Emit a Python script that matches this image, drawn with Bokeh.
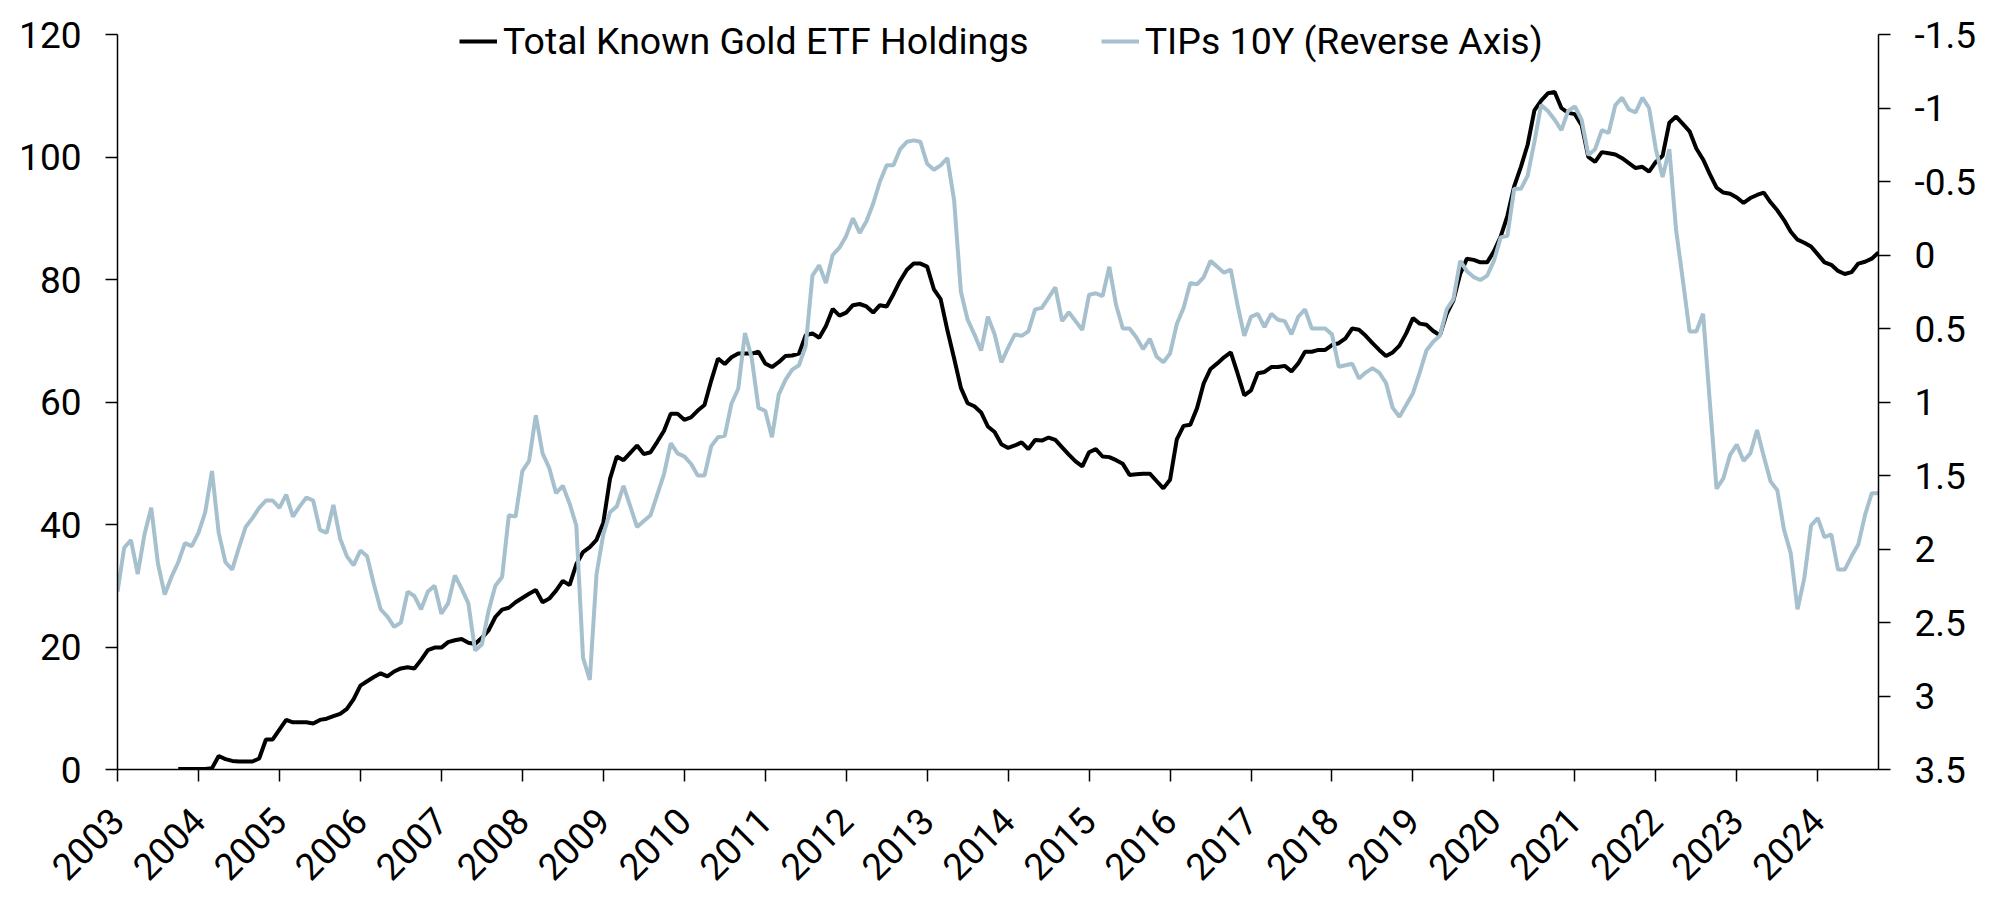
from bokeh.plotting import figure
from bokeh.models import Range1d, LinearAxis, FixedTicker, Legend, LegendItem, ColumnDataSource
from bokeh.embed import file_html
from bokeh.resources import INLINE

# Monthly observations, Jan 2003 .. Oct 2024
start_year = 2003
n_months = 262

# Total Known Gold ETF Holdings (left axis); None = no data yet
etf = [
    None, None, None, None, None, None, None, None, None, 0.1, 0.1, 0.1,          # 2003
    0.1, 0.1, 0.2, 2.2, 1.7, 1.4, 1.3, 1.3, 1.3, 1.8, 4.9, 4.9,                   # 2004
    6.5, 8.1, 7.7, 7.7, 7.7, 7.5, 8.1, 8.3, 8.7, 9.1, 9.9, 11.5,                  # 2005
    13.7, 14.4, 15.1, 15.7, 15.2, 16.0, 16.5, 16.7, 16.5, 17.9, 19.5, 19.9,       # 2006
    19.9, 20.8, 21.1, 21.3, 20.7, 20.5, 21.5, 22.7, 24.9, 26.1, 26.4, 27.3,       # 2007
    28.0, 28.7, 29.3, 27.3, 27.9, 29.2, 30.8, 30.1, 33.5, 35.5, 36.3, 37.5,       # 2008
    40.3, 47.5, 51.1, 50.5, 51.7, 52.9, 51.5, 51.8, 53.5, 55.3, 58.1, 58.1,       # 2009
    57.1, 57.5, 58.6, 59.5, 63.5, 67.1, 66.2, 67.3, 67.9, 67.9, 67.9, 68.2,       # 2010
    66.3, 65.7, 66.5, 67.5, 67.6, 67.9, 70.9, 71.2, 70.5, 72.4, 75.2, 74.1,       # 2011
    74.6, 75.8, 76.0, 75.6, 74.6, 75.8, 75.6, 77.6, 79.8, 81.6, 82.6, 82.6,       # 2012
    82.1, 78.4, 76.8, 71.7, 67.1, 62.3, 59.8, 59.3, 58.3, 56.0, 55.1, 53.1,       # 2013
    52.5, 52.9, 53.4, 52.3, 53.8, 53.7, 54.2, 53.8, 52.6, 51.4, 50.3, 49.5,       # 2014
    51.8, 52.3, 51.1, 51.0, 50.5, 49.9, 48.1, 48.2, 48.3, 48.3, 47.1, 45.9,       # 2015
    47.3, 53.9, 56.1, 56.3, 59.0, 63.1, 65.4, 66.3, 67.3, 68.1, 64.7, 61.1,       # 2016
    61.9, 64.7, 64.9, 65.7, 65.7, 65.9, 65.0, 66.3, 68.2, 68.2, 68.5, 68.5,       # 2017
    69.3, 69.6, 70.4, 72.0, 71.8, 70.8, 69.6, 68.5, 67.5, 68.1, 69.2, 71.2,       # 2018
    73.7, 72.8, 72.6, 71.6, 70.9, 74.4, 76.6, 80.9, 83.4, 83.2, 82.8, 82.8,       # 2019
    84.6, 87.0, 90.4, 95.2, 98.4, 102.0, 107.6, 109.2, 110.4, 110.6, 108.0, 107.2,  # 2020
    107.0, 105.2, 100.0, 99.2, 100.8, 100.6, 100.4, 99.8, 99.0, 98.2, 98.4, 97.6,  # 2021
    99.2, 100.2, 105.6, 106.6, 105.4, 104.2, 101.4, 99.6, 97.2, 95.0, 94.2, 94.0,  # 2022
    93.4, 92.5, 93.3, 93.8, 94.2, 92.6, 91.3, 89.7, 87.8, 86.5, 86.0, 85.4,       # 2023
    84.1, 82.8, 82.4, 81.4, 80.9, 81.2, 82.6, 82.9, 83.4, 84.4,                   # 2024
]

# TIPs 10Y real yield, % (right axis, reversed)
tips = [
    2.29, 1.99, 1.94, 2.17, 1.90, 1.72, 2.10, 2.31, 2.19, 2.09, 1.96, 1.98,       # 2003
    1.89, 1.75, 1.47, 1.89, 2.09, 2.14, 1.99, 1.85, 1.79, 1.72, 1.67, 1.67,       # 2004
    1.72, 1.63, 1.78, 1.71, 1.65, 1.67, 1.87, 1.89, 1.70, 1.93, 2.05, 2.11,       # 2005
    2.01, 2.05, 2.24, 2.41, 2.46, 2.53, 2.50, 2.29, 2.32, 2.41, 2.29, 2.25,       # 2006
    2.44, 2.37, 2.18, 2.27, 2.37, 2.69, 2.65, 2.42, 2.25, 2.19, 1.77, 1.78,       # 2007
    1.47, 1.40, 1.09, 1.35, 1.45, 1.62, 1.57, 1.69, 1.84, 2.74, 2.89, 2.17,       # 2008
    1.90, 1.75, 1.71, 1.57, 1.71, 1.85, 1.81, 1.77, 1.63, 1.49, 1.28, 1.35,       # 2009
    1.37, 1.42, 1.50, 1.50, 1.30, 1.24, 1.23, 1.01, 0.91, 0.53, 0.70, 1.04,       # 2010
    1.06, 1.24, 0.95, 0.85, 0.78, 0.75, 0.62, 0.14, 0.07, 0.19, 0.00, -0.05,      # 2011
    -0.13, -0.25, -0.15, -0.23, -0.35, -0.50, -0.61, -0.61, -0.72, -0.77, -0.78, -0.77,  # 2012
    -0.62, -0.58, -0.61, -0.66, -0.37, 0.25, 0.44, 0.54, 0.65, 0.42, 0.54, 0.73,  # 2013
    0.63, 0.54, 0.55, 0.52, 0.37, 0.36, 0.29, 0.22, 0.45, 0.39, 0.45, 0.51,       # 2014
    0.27, 0.26, 0.28, 0.08, 0.34, 0.50, 0.50, 0.56, 0.64, 0.57, 0.69, 0.73,       # 2015
    0.67, 0.47, 0.36, 0.19, 0.20, 0.15, 0.04, 0.08, 0.12, 0.10, 0.34, 0.55,       # 2016
    0.42, 0.40, 0.49, 0.40, 0.44, 0.45, 0.54, 0.42, 0.37, 0.50, 0.50, 0.50,       # 2017
    0.54, 0.76, 0.75, 0.74, 0.84, 0.80, 0.77, 0.80, 0.87, 1.04, 1.10, 1.02,       # 2018
    0.94, 0.80, 0.65, 0.59, 0.55, 0.37, 0.30, 0.04, 0.11, 0.15, 0.17, 0.14,       # 2019
    0.04, -0.12, -0.13, -0.45, -0.45, -0.54, -0.77, -1.02, -0.98, -0.92, -0.85, -0.98,  # 2020
    -1.01, -0.92, -0.68, -0.72, -0.85, -0.83, -1.02, -1.07, -0.99, -0.97, -1.07, -1.00,  # 2021
    -0.72, -0.53, -0.72, -0.17, 0.17, 0.52, 0.52, 0.40, 1.00, 1.59, 1.52, 1.36,   # 2022
    1.29, 1.40, 1.35, 1.19, 1.37, 1.54, 1.60, 1.87, 2.03, 2.41, 2.20, 1.84,       # 2023
    1.79, 1.92, 1.90, 2.14, 2.14, 2.05, 1.97, 1.77, 1.62, 1.62,                   # 2024
]

year_ticks = list(range(2003, 2025))
left_ticks = [0, 20, 40, 60, 80, 100, 120]
right_ticks = [-1.5, -1, -0.5, 0, 0.5, 1, 1.5, 2, 2.5, 3, 3.5]
right_labels = ["-1.5", "-1", "-0.5", "0", "0.5", "1", "1.5", "2", "2.5", "3", "3.5"]

series_names = ["Total Known Gold ETF Holdings", "TIPs 10Y (Reverse Axis)"]

FONT = "Roboto"
FS = "37px"
LEG_FS = "37.5px"
BLUE = "#A6C0CE"

# geometry: the axes span 735 px (0..120 / 3.5..-1.5); the frame is extended upward
# by 34 px so that the legend can sit above the 120 line inside the frame.
AX_PX = 735
TOP_PX = 34
frame_h = AX_PX + TOP_PX
left_top = 120 * frame_h / AX_PX
right_top = 3.5 - 5 * frame_h / AX_PX

x = [start_year + i / 12 for i in range(n_months)]
etf_vals = [float("nan") if v is None else v for v in etf]
src = ColumnDataSource(dict(x=x, etf=etf_vals, tips=tips))

p = figure(
    frame_width=1761, frame_height=frame_h,
    min_border_left=117, min_border_right=113, min_border_top=0, min_border_bottom=126,
    x_range=Range1d(2003, 2024.75), y_range=Range1d(0, left_top),
    output_backend="svg", toolbar_location=None, tools="",
)
p.outline_line_color = None
p.xgrid.visible = False
p.ygrid.visible = False
p.background_fill_color = "white"
p.border_fill_color = "white"

p.extra_y_ranges = {"tips": Range1d(start=3.5, end=right_top)}

r_etf = p.line("x", "etf", source=src, line_color="black", line_width=4)
r_tips = p.line("x", "tips", source=src, line_color=BLUE, line_width=4, y_range_name="tips")


def style_axis(ax):
    ax.axis_line_color = "black"
    ax.axis_line_width = 1.5
    ax.major_tick_line_color = "black"
    ax.major_tick_line_width = 1.5
    ax.major_tick_out = 12
    ax.major_tick_in = 0
    ax.minor_tick_line_color = None
    ax.major_label_text_font = FONT
    ax.major_label_text_font_size = FS
    ax.major_label_text_color = "black"
    ax.major_label_standoff = 24


# x axis
xa = p.xaxis[0]
style_axis(xa)
xa.ticker = FixedTicker(ticks=year_ticks)
xa.major_label_overrides = {y: str(y) for y in year_ticks}
xa.major_label_orientation = 0.785398
xa.major_label_standoff = 33

# left axis
ya = p.yaxis[0]
style_axis(ya)
ya.bounds = (0, 120)
ya.ticker = FixedTicker(ticks=left_ticks)
ya.major_label_overrides = {v: str(v) for v in left_ticks}

# right axis
ra = LinearAxis(y_range_name="tips")
style_axis(ra)
ra.bounds = (-1.5, 3.5)
ra.ticker = FixedTicker(ticks=right_ticks)
ra.major_label_overrides = {t: s for t, s in zip(right_ticks, right_labels)}
p.add_layout(ra, "right")

legend = Legend(
    items=[LegendItem(label=series_names[0], renderers=[r_etf]),
           LegendItem(label=series_names[1], renderers=[r_tips])],
    location=(342, 706), orientation="horizontal",
    label_text_font=FONT, label_text_font_size=LEG_FS, label_text_color="black",
    glyph_width=38, glyph_height=20, label_standoff=6, spacing=72,
    padding=0, margin=0, border_line_alpha=0, background_fill_alpha=0,
)
p.add_layout(legend)

open("out.html", "w").write(file_html(p, INLINE))
